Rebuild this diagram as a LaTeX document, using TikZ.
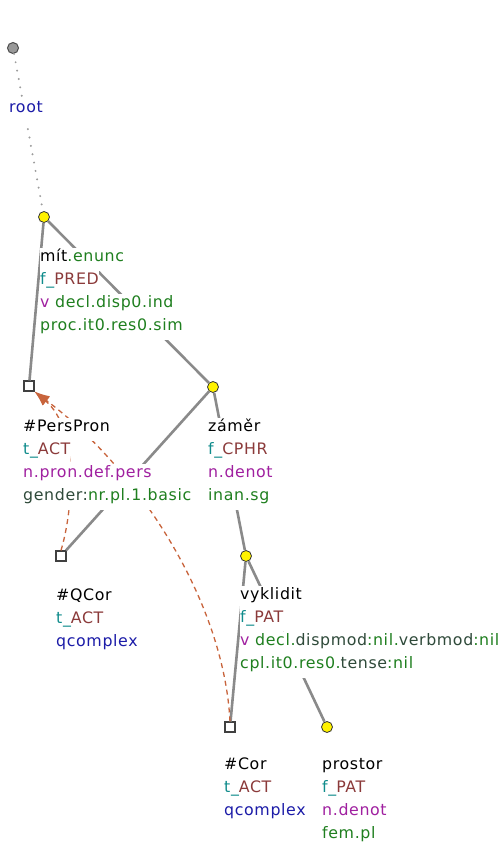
\documentclass[tikz,border=0pt]{standalone}
\usepackage{fontspec}
\setmainfont{DejaVu Sans}[LetterSpace=4]
\usetikzlibrary{arrows.meta}
\definecolor{edgegray}{HTML}{8A8A8A}
\definecolor{corefline}{HTML}{C8643C}
\definecolor{gramgreen}{HTML}{1F7F1F}
\definecolor{functeal}{HTML}{108C8C}
\definecolor{funcbrown}{HTML}{8B3A3A}
\definecolor{pospurple}{HTML}{A020A0}
\definecolor{attrdark}{HTML}{2F4A3A}
\definecolor{qnavy}{HTML}{1C1CA8}
\newcommand\tgram[1]{\textcolor{gramgreen}{#1}}
\newcommand\tfnc[1]{\textcolor{functeal}{#1}}
\newcommand\tfun[1]{\textcolor{funcbrown}{#1}}
\newcommand\tpos[1]{\textcolor{pospurple}{#1}}
\newcommand\tattr[1]{\textcolor{attrdark}{#1}}
\newcommand\tnav[1]{\textcolor{qnavy}{#1}}

\begin{document}
\begin{tikzpicture}[x=1pt,y=-1pt,font=\fontsize{15.8}{23}\selectfont,
 tnode/.style={circle,draw=black!80,fill=yellow,line width=.8pt,inner sep=0pt,minimum size=11pt},
 hnode/.style={rectangle,draw=black!75,fill=white,line width=1.1pt,inner sep=0pt,minimum size=10pt},
 rnode/.style={circle,draw=black!70,fill=black!40,line width=1pt,inner sep=0pt,minimum size=11pt},
 edge/.style={draw=edgegray,line width=2.6pt},
 coref/.style={draw=corefline,line width=1.3pt,dash pattern=on 5pt off 4pt,-{Latex[length=15pt,width=11pt]}},
 lbl/.style={anchor=base west,fill=white,inner xsep=0pt,inner ysep=0pt,text height=13pt,text depth=10pt}]
\useasboundingbox (0,0) rectangle (500,844);
% tree nodes
\node[rnode] (root) at (13,48) {};
\node[tnode] (mit) at (44,217) {};
\node[hnode] (perspron) at (29,386) {};
\node[tnode] (zamer) at (213,387) {};
\node[hnode] (qcor) at (61,556) {};
\node[tnode] (vyklidit) at (246,556) {};
\node[hnode] (cor) at (230,727) {};
\node[tnode] (prostor) at (327,727) {};
% edges
\draw[edgegray!85,line width=2.2pt,line cap=round,dash pattern=on 0pt off 8.5pt] (root) -- (mit);
\draw[edge] (mit) -- (perspron);
\draw[edge] (mit) -- (zamer);
\draw[edge] (zamer) -- (qcor);
\draw[edge] (zamer) -- (vyklidit);
\draw[edge] (vyklidit) -- (cor);
\draw[edge] (vyklidit) -- (prostor);
% coreference
\draw[coref] (qcor.north) .. controls +(12,-40) and +(45,38) .. (perspron.south east);
\draw[coref] (cor.north) .. controls +(-6,-120) and +(104,78) .. (perspron.south east);
% labels
\node[lbl] (root-1) at (9,112) {\tnav{root}};
\foreach \txt [count=\i] in {{mít\tgram{.enunc}},{\tfnc{f\_}\tfun{PRED}},{\tpos{v} \tgram{decl.disp0.ind}},{\tgram{proc.it0.res0.sim}}}
 \node[lbl] (mit-\i) at (40,{238+23*\i}) {\txt};
\foreach \txt [count=\i] in {{\#PersPron},{\tfnc{t\_}\tfun{ACT}},{\tpos{n.pron.def.pers}},{\tattr{gender:}\tgram{nr.pl.1.basic}}}
 \node[lbl] (perspron-\i) at (23,{408+23*\i}) {\txt};
\foreach \txt [count=\i] in {{záměr},{\tfnc{f\_}\tfun{CPHR}},{\tpos{n.denot}},{\tgram{inan.sg}}}
 \node[lbl] (zamer-\i) at (208,{408+23*\i}) {\txt};
\foreach \txt [count=\i] in {{\#QCor},{\tfnc{t\_}\tfun{ACT}},{\tnav{qcomplex}}}
 \node[lbl] (qcor-\i) at (56,{577+23*\i}) {\txt};
\foreach \txt [count=\i] in {{vyklidit},{\tfnc{f\_}\tfun{PAT}},{\tpos{v} \tgram{decl.}\tattr{dispmod}\tgram{:nil.}\tattr{verbmod}\tgram{:nil}},{\tgram{cpl.it0.res0.}\tattr{tense}\tgram{:nil}}}
 \node[lbl] (vyklidit-\i) at (240,{576+23*\i}) {\txt};
\foreach \txt [count=\i] in {{\#Cor},{\tfnc{t\_}\tfun{ACT}},{\tnav{qcomplex}}}
 \node[lbl] (cor-\i) at (224,{746+23*\i}) {\txt};
\foreach \txt [count=\i] in {{prostor},{\tfnc{f\_}\tfun{PAT}},{\tpos{n.denot}},{\tgram{fem.pl}}}
 \node[lbl] (prostor-\i) at (322,{746+23*\i}) {\txt};
\end{tikzpicture}
\end{document}
